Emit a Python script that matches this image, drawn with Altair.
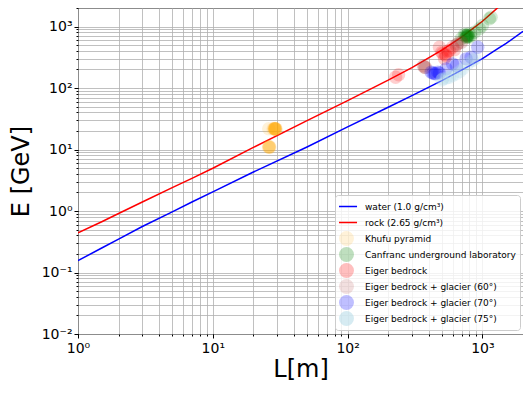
import altair as alt
import pandas as pd

# ---------------- data ----------------
line_L = [1, 1.5, 2, 3, 5, 7, 10, 20, 50, 100, 200, 300, 500, 700, 1000, 1300, 1500, 2000]
water_E = [0.156, 0.25, 0.35, 0.56, 0.97, 1.4, 2.05, 4.3, 11.0, 23.3, 48.6, 75, 132, 196, 300, 436, 530, 838]
rock_L = [1, 1.5, 2, 3, 5, 7, 10, 20, 50, 100, 200, 300, 500, 700, 1000, 1300, 1400]
rock_E = [0.44, 0.67, 0.91, 1.4, 2.4, 3.4, 4.95, 10.8, 29.5, 62.5, 134, 215, 414, 674, 1218, 2028, 2350]

khufu_L = [26.0, 28.0, 28.5, 28.8, 29.0, 29.0, 29.3, 29.5, 28.6, 28.9, 29.1,
           26.0, 26.2, 26.5, 26.0, 26.3]
khufu_E = [21.7, 21.5, 21.7, 21.7, 21.9, 21.5, 21.6, 21.5, 21.8, 21.6, 21.7,
           10.9, 11.2, 10.8, 11.0, 11.1]
canfranc_L = [695, 736, 757, 770, 780, 790, 801, 820, 873, 950, 1000, 1127, 1159,
              745, 765, 775, 785, 760]
canfranc_E = [631, 740, 714, 690, 700, 760, 670, 720, 807, 918, 1038, 1334, 1417,
              700, 680, 720, 690, 660]
eiger_L = [227, 239, 480, 508, 523, 570, 600, 540, 620, 500, 530, 555]
eiger_E = [150, 164, 460, 364, 301, 407, 460, 330, 420, 380, 350, 395]
g60_L = [372, 365, 378, 656, 699, 640]
g60_E = [218, 230, 215, 523, 556, 500]
g70_L = [417, 441, 467, 480, 538, 600, 640, 757, 825, 923, 430, 450]
g70_E = [180, 170, 180, 175, 205, 247, 230, 298, 316, 460, 175, 172]
g75_L = [500, 508, 540, 570, 600, 639, 680, 715, 778, 843, 880]
g75_E = [135, 141, 145, 150, 160, 170, 185, 205, 247, 280, 300]

line_names = ["water (1.0 g/cm³)", "rock (2.65 g/cm³)"]
point_names = ["Khufu pyramid", "Canfranc underground laboratory", "Eiger bedrock",
               "Eiger bedrock + glacier (60°)", "Eiger bedrock + glacier (70°)",
               "Eiger bedrock + glacier (75°)"]
all_names = line_names + point_names
all_colors = ["#0000ff", "#ff0000", "#ffa500", "#008000", "#ff0000", "#a52a2a", "#0000ff", "#add8e6"]
point_alpha = [0.15, 0.25, 0.25, 0.15, 0.25, 0.5]

# ---------------- tables ----------------
lines_df = pd.concat([
    pd.DataFrame({"L": line_L, "E": water_E, "series": line_names[0]}),
    pd.DataFrame({"L": rock_L, "E": rock_E, "series": line_names[1]}),
])
pts = [(khufu_L, khufu_E), (canfranc_L, canfranc_E), (eiger_L, eiger_E),
       (g60_L, g60_E), (g70_L, g70_E), (g75_L, g75_E)]
points_df = pd.concat([
    pd.DataFrame({"L": l, "E": e, "series": n}) for (l, e), n in zip(pts, point_names)
])

minor_x = [m * 10 ** k for k in range(0, 4) for m in range(1, 10) if m * 10 ** k <= 2000]
minor_y = [round(m * 10.0 ** k, 4) for k in range(-2, 4) for m in range(1, 10) if m * 10.0 ** k <= 2000]
major_x = [1, 10, 100, 1000]
major_y = [0.01, 0.1, 1, 10, 100, 1000]

FONT = "DejaVu Sans"
x_scale = alt.Scale(type="log", domain=[1, 2000], nice=False)
y_scale = alt.Scale(type="log", domain=[0.01, 2000], nice=False)
color_scale = alt.Scale(domain=all_names, range=all_colors)

sup = "['⁰','¹','²','³']"
exp_expr = "round(log(datum.value)/LN10)"
x_label = f"'10' + {sup}[{exp_expr}]"
y_label = f"'10' + ({exp_expr} < 0 ? '⁻' : '') + {sup}[abs({exp_expr})]"

is_line = "(datum.value === '" + line_names[0] + "' || datum.value === '" + line_names[1] + "')"
alpha_arr = "[1, 1, " + ", ".join(str(a) for a in point_alpha) + "]"
col_arr = "[" + ", ".join("'" + c + "'" for c in all_colors) + "]"
names_arr = "[" + ", ".join("'" + n + "'" for n in all_names) + "]"
idx = f"indexof({names_arr}, datum.value)"
legend = alt.Legend(
    title=None, orient="none", legendX=257, legendY=187,
    labelFont=FONT, labelFontSize=9, labelColor="black", labelLimit=300,
    strokeColor="#cccccc", fillColor="rgba(255,255,255,0.8)", cornerRadius=3,
    padding=4, rowPadding=1, labelOffset=11, zindex=5, symbolSize=180, clipHeight=15,
    symbolType={"expr": f"{is_line} ? 'M-1.57,0L1.57,0' : 'circle'"},
    symbolFillColor={"expr": f"{is_line} ? 'transparent' : {col_arr}[{idx}]"},
    symbolStrokeColor={"expr": f"{is_line} ? {col_arr}[{idx}] : 'transparent'"},
    symbolStrokeWidth=1.5,
    symbolOpacity={"expr": f"{alpha_arr}[{idx}]"},
)

lines = alt.Chart(lines_df).mark_line(clip=True, strokeWidth=1.5).encode(
    x=alt.X("L:Q", scale=x_scale, axis=alt.Axis(
        values=major_x, labelExpr=x_label, title="L[m]", grid=False, orient="bottom",
        tickSize=4, tickColor="black", labelFont=FONT, labelFontSize=14, labelColor="black",
        labelPadding=3, labelFlush=False, domain=False, titleFont=FONT, titleFontSize=24,
        titleFontWeight="normal", titleColor="black", titleBaseline="alphabetic", titleY=42)),
    y=alt.Y("E:Q", scale=y_scale, axis=alt.Axis(
        values=major_y, labelExpr=y_label, title="E [GeV]", grid=False, orient="left",
        tickSize=4, tickColor="black", labelFont=FONT, labelFontSize=14, labelColor="black",
        labelPadding=2, labelFlush=False, domain=False, titleFont=FONT, titleFontSize=24,
        titleFontWeight="normal", titleColor="black", titleAngle=-90, titleAlign="center",
        titleBaseline="alphabetic", titleX=-50, titleY=163)),
    color=alt.Color("series:N", scale=color_scale, legend=legend),
    order=alt.Order("L:Q"),
)

points = alt.Chart(points_df).mark_circle(size=180, clip=True).encode(
    x=alt.X("L:Q", scale=x_scale, axis=alt.Axis(
        values=minor_x, labels=False, title=None, grid=True, gridColor="#b0b0b0",
        gridWidth=0.8, gridOpacity=1, orient="bottom", tickSize=2, tickColor="black",
        domain=False)),
    y=alt.Y("E:Q", scale=y_scale, axis=alt.Axis(
        values=minor_y, labels=False, title=None, grid=True, gridColor="#b0b0b0",
        gridWidth=0.8, gridOpacity=1, orient="left", tickSize=2, tickColor="black",
        domain=False)),
    color=alt.Color("series:N", scale=color_scale, legend=legend),
    opacity=alt.Opacity("series:N", scale=alt.Scale(domain=point_names, range=point_alpha),
                        legend=None),
)

chart = alt.layer(lines, points).resolve_axis(
    x="independent", y="independent"
).properties(
    width=445, height=326,
    autosize=alt.AutoSizeParams(type="none"),
    padding={"left": 70, "top": 0, "right": 0, "bottom": 48},
).configure_view(stroke="black", strokeWidth=1)

chart.save("out.html", embed_options={"renderer": "svg", "actions": False})
